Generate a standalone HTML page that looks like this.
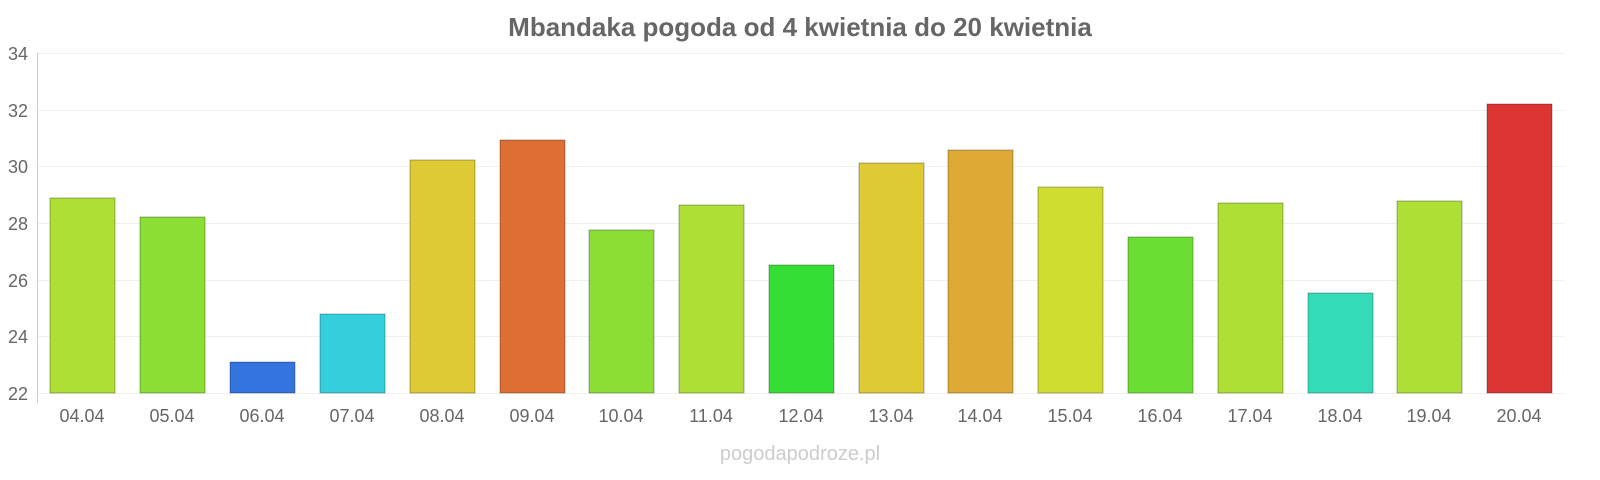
<!DOCTYPE html>
<html><head><meta charset="utf-8"><style>
html,body{margin:0;padding:0;background:#fff;width:1600px;height:480px;overflow:hidden}
text{font-family:"Liberation Sans",Arial,sans-serif}
</style></head><body>
<svg width="1600" height="480" viewBox="0 0 1600 480" xmlns="http://www.w3.org/2000/svg">
<text x="800" y="36" text-anchor="middle" font-size="26" font-weight="bold" fill="#666">Mbandaka pogoda od 4 kwietnia do 20 kwietnia</text>
<g stroke="#f0f0f0" stroke-width="1">
<line x1="38" x2="1565" y1="53.5" y2="53.5"/><line x1="38" x2="1565" y1="110.5" y2="110.5"/>
<line x1="38" x2="1565" y1="166.5" y2="166.5"/><line x1="38" x2="1565" y1="223.5" y2="223.5"/>
<line x1="38" x2="1565" y1="280.5" y2="280.5"/><line x1="38" x2="1565" y1="336.5" y2="336.5"/>
<line x1="38" x2="1565" y1="393.5" y2="393.5"/>
</g>
<line x1="37.5" x2="37.5" y1="53" y2="403" stroke="#ccc"/>
<g font-size="18" fill="#666" text-anchor="end">
<text x="28" y="60">34</text><text x="28" y="117">32</text><text x="28" y="173">30</text>
<text x="28" y="230">28</text><text x="28" y="287">26</text><text x="28" y="343">24</text><text x="28" y="400">22</text>
</g>
<g stroke-width="1" stroke-opacity="0.3" stroke="#000">
<rect x="50" y="198" width="65" height="195" fill="#addf34"/>
<rect x="140" y="217" width="65" height="176" fill="#8ade34"/>
<rect x="230" y="362" width="65" height="31" fill="#3474de"/>
<rect x="320" y="314" width="65" height="79" fill="#34cfdd"/>
<rect x="410" y="160" width="65" height="233" fill="#ddca34"/>
<rect x="500" y="140" width="65" height="253" fill="#de6f34"/>
<rect x="589" y="230" width="65" height="163" fill="#8ade34"/>
<rect x="679" y="205" width="65" height="188" fill="#addf34"/>
<rect x="769" y="265" width="65" height="128" fill="#34de34"/>
<rect x="859" y="163" width="65" height="230" fill="#ddca34"/>
<rect x="948" y="150" width="65" height="243" fill="#dea934"/>
<rect x="1038" y="187" width="65" height="206" fill="#cfdd31"/>
<rect x="1128" y="237" width="65" height="156" fill="#6bde34"/>
<rect x="1218" y="203" width="65" height="190" fill="#addf34"/>
<rect x="1308" y="293" width="65" height="100" fill="#34dbb8"/>
<rect x="1397" y="201" width="65" height="192" fill="#addf34"/>
<rect x="1487" y="104" width="65" height="289" fill="#dd3434"/>
</g>
<g font-size="18" fill="#666" text-anchor="middle">
<text x="82" y="422">04.04</text><text x="172" y="422">05.04</text><text x="262" y="422">06.04</text>
<text x="352" y="422">07.04</text><text x="442" y="422">08.04</text><text x="532" y="422">09.04</text>
<text x="621" y="422">10.04</text><text x="711" y="422">11.04</text><text x="801" y="422">12.04</text>
<text x="891" y="422">13.04</text><text x="980" y="422">14.04</text><text x="1070" y="422">15.04</text>
<text x="1160" y="422">16.04</text><text x="1250" y="422">17.04</text><text x="1340" y="422">18.04</text>
<text x="1429" y="422">19.04</text><text x="1519" y="422">20.04</text>
</g>
<text x="800" y="460" text-anchor="middle" font-size="20" fill="#ccc">pogodapodroze.pl</text>
</svg>
</body></html>
